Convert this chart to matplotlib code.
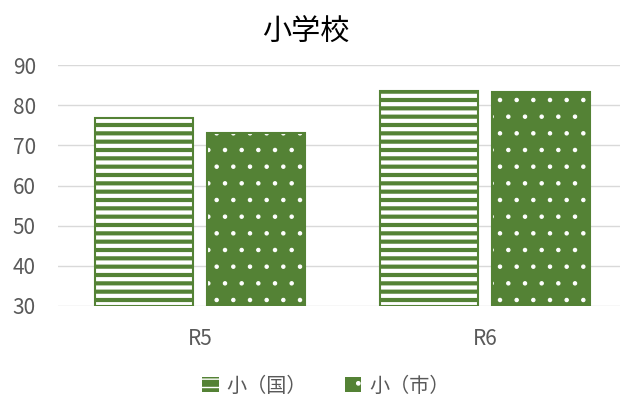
import numpy as np
import matplotlib
matplotlib.use("Agg")
import matplotlib.pyplot as plt
from matplotlib.patches import Patch

plt.rcParams["font.family"] = ["Noto Sans CJK JP", "DejaVu Sans"]

categories = ["R5", "R6"]
series_names = ["小（国）", "小（市）"]
kuni_values = [76.8, 83.5]
shi_values = [73.1, 83.4]
hatches = ["--", "."]
hatch_widths = [3.0, 0.8]
green = "#548235"
text_color = "#595959"
grid_color = "#d9d9d9"

fig = plt.figure(figsize=(6.25, 4), dpi=100)
ax = fig.add_axes([0.093, 0.235, 0.899, 0.6025])

x = np.arange(len(categories))
width = 0.344
offsets = [-0.197, 0.197]
bottom = 30
for vals, off, h, hw in zip([kuni_values, shi_values], offsets, hatches, hatch_widths):
    heights = np.array(vals) - bottom
    with plt.rc_context({"hatch.linewidth": hw}):
        bars = ax.bar(x + off, heights, width, bottom=bottom, color=green,
                      edgecolor="white", hatch=h, linewidth=0, zorder=3)
    for b in bars:
        if hasattr(b, "set_hatch_linewidth"):
            b.set_hatch_linewidth(hw)
    ax.bar(x + off, heights, width, bottom=bottom, fill=False,
           edgecolor=green, linewidth=1.5, zorder=4)

ax.set_ylim(30, 90)
ax.set_xlim(-0.499, 1.473)
ax.set_yticks(range(30, 91, 10))
ax.set_xticks(x)
ax.set_xticklabels(categories)
ax.grid(axis="y", color=grid_color, linewidth=1, zorder=0)
for s in ["top", "right", "left", "bottom"]:
    ax.spines[s].set_visible(False)
ax.tick_params(axis="both", length=0, colors=text_color, labelsize=15)
ax.tick_params(axis="x", pad=16)
ax.tick_params(axis="y", pad=16)

fig.suptitle("小学校", x=0.49, y=0.955, fontsize=21, color="black")

handles = []
for h, hw in zip(hatches, hatch_widths):
    with plt.rc_context({"hatch.linewidth": hw}):
        p = Patch(facecolor=green, edgecolor="white", hatch=h, linewidth=0)
    if hasattr(p, "set_hatch_linewidth"):
        p.set_hatch_linewidth(hw)
    handles.append(p)
leg = fig.legend(handles, series_names, loc="center", bbox_to_anchor=(0.522, 0.035),
                 ncol=2, frameon=False, fontsize=14.5, handlelength=0.8, handleheight=0.8,
                 columnspacing=1.9, handletextpad=0.4)
for t in leg.get_texts():
    t.set_color(text_color)

fig.savefig("out.png", dpi=100)
